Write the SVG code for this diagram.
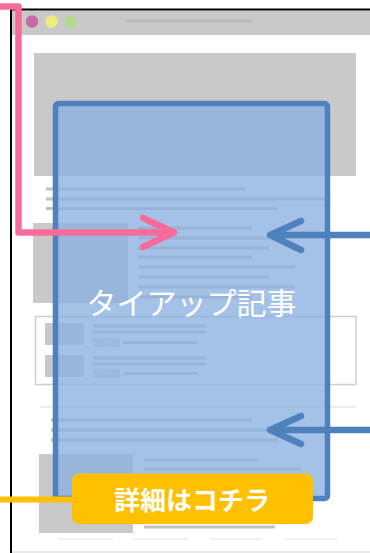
<svg xmlns="http://www.w3.org/2000/svg" width="370" height="553" viewBox="0 0 370 553">
<style>
.g{fill:#c8c9c8}
.ln{stroke:#c0c1c0;stroke-width:3;fill:none}
.fl{stroke:#ececec;stroke-width:1.5;fill:none}
.pr{fill:#dcdcdc}
.prt{font-family:"Liberation Sans",sans-serif;font-size:5px;fill:#f4f4f4}
.conn{fill:none;stroke-width:6.5;stroke-linecap:round;stroke-linejoin:round}
.lbl{font-family:"Noto Sans CJK JP","Noto Sans",sans-serif;fill:#fff;text-anchor:middle}
</style>
<rect width="370" height="553" fill="#fff"/>
<g id="browser">
  <rect x="11" y="10.5" width="359" height="24.5" class="g"/>
  <path d="M11,553 V9.5 H370" fill="none" stroke="#000" stroke-width="2"/>
  <circle cx="32" cy="21.5" r="6.3" fill="#c96aa8"/>
  <circle cx="51.5" cy="21.5" r="6.3" fill="#ecec7a"/>
  <circle cx="70.5" cy="21.5" r="6.3" fill="#b4d88c"/>
  <line x1="126" y1="21" x2="252" y2="21" stroke="#b9bab9" stroke-width="3"/>
  <line x1="12" y1="552" x2="370" y2="552" stroke="#e2e2e2" stroke-width="1.5"/>
</g>
<g id="page">
  <rect x="34" y="53" width="322" height="123" class="g"/>
  <path class="ln" d="M46,189 H246 M46,199 H325 M46,208.5 H277"/>
  <rect x="33" y="223" width="95" height="80" class="g"/>
  <path class="ln" d="M138,228 H252 M138,238 H269 M138,248 H269 M138,257 H252 M138,267 H295 M138,277 H269 M138,287 H295 M138,297 H252"/>
  <rect x="35.5" y="316.5" width="320.5" height="68" fill="none" stroke="#cfcfcf" stroke-width="1.5"/>
  <rect x="45" y="323" width="39" height="22" class="g"/>
  <rect x="45" y="355" width="39" height="22" class="g"/>
  <path class="ln" d="M93,326 H206 M93,332 H206 M123,342.5 H198 M93,358 H206 M93,364 H206 M123,373.5 H198" stroke-width="2.5"/>
  <rect x="93" y="338" width="27" height="9" class="pr"/>
  <text x="106.5" y="344.5" class="prt" text-anchor="middle">PR</text>
  <rect x="93" y="369" width="27" height="9" class="pr"/>
  <text x="106.5" y="375.5" class="prt" text-anchor="middle">PR</text>
  <line x1="40" y1="407" x2="356" y2="407" stroke="#d8d8d8" stroke-width="1"/>
  <path class="ln" d="M51,420 H252 M51,430 H300 M51,440 H278"/>
  <rect x="39" y="454" width="94" height="79" class="g"/>
  <path class="ln" d="M144,460 H258 M144,469 H301 M144,527 H275"/>
  <path class="fl" d="M58,539 H113 M133,539 H188 M210,539 H263 M285,539 H338"/>
</g>
<g id="tieup">
  <rect x="55.5" y="103.5" width="272" height="395" rx="3" fill="rgb(138,176,225)" fill-opacity="0.78" stroke="#4f81bd" stroke-width="5.5"/>
  <text x="191.5" y="314" class="lbl" font-size="30">タイアップ記事</text>
</g>
<g id="connectors">
  <path class="conn" stroke="#f86b99" d="M0,6.5 H18.5 V232.5 H172 M143,218 L174,232.5 L143,247"/>
  <path class="conn" stroke="#4f81bd" d="M370,235 H272 M301,221 L270,235 L301,250"/>
  <path class="conn" stroke="#4f81bd" d="M370,430 H272 M301,416 L270,430 L301,444"/>
  <path fill="none" stroke="#ffc000" stroke-width="6" d="M0,499.5 H74"/>
</g>
<g id="button">
  <rect x="72" y="473.5" width="241" height="50.5" rx="7" fill="#ffc000"/>
  <text x="192" y="510" class="lbl" font-size="26" font-weight="bold">詳細はコチラ</text>
</g>
</svg>
